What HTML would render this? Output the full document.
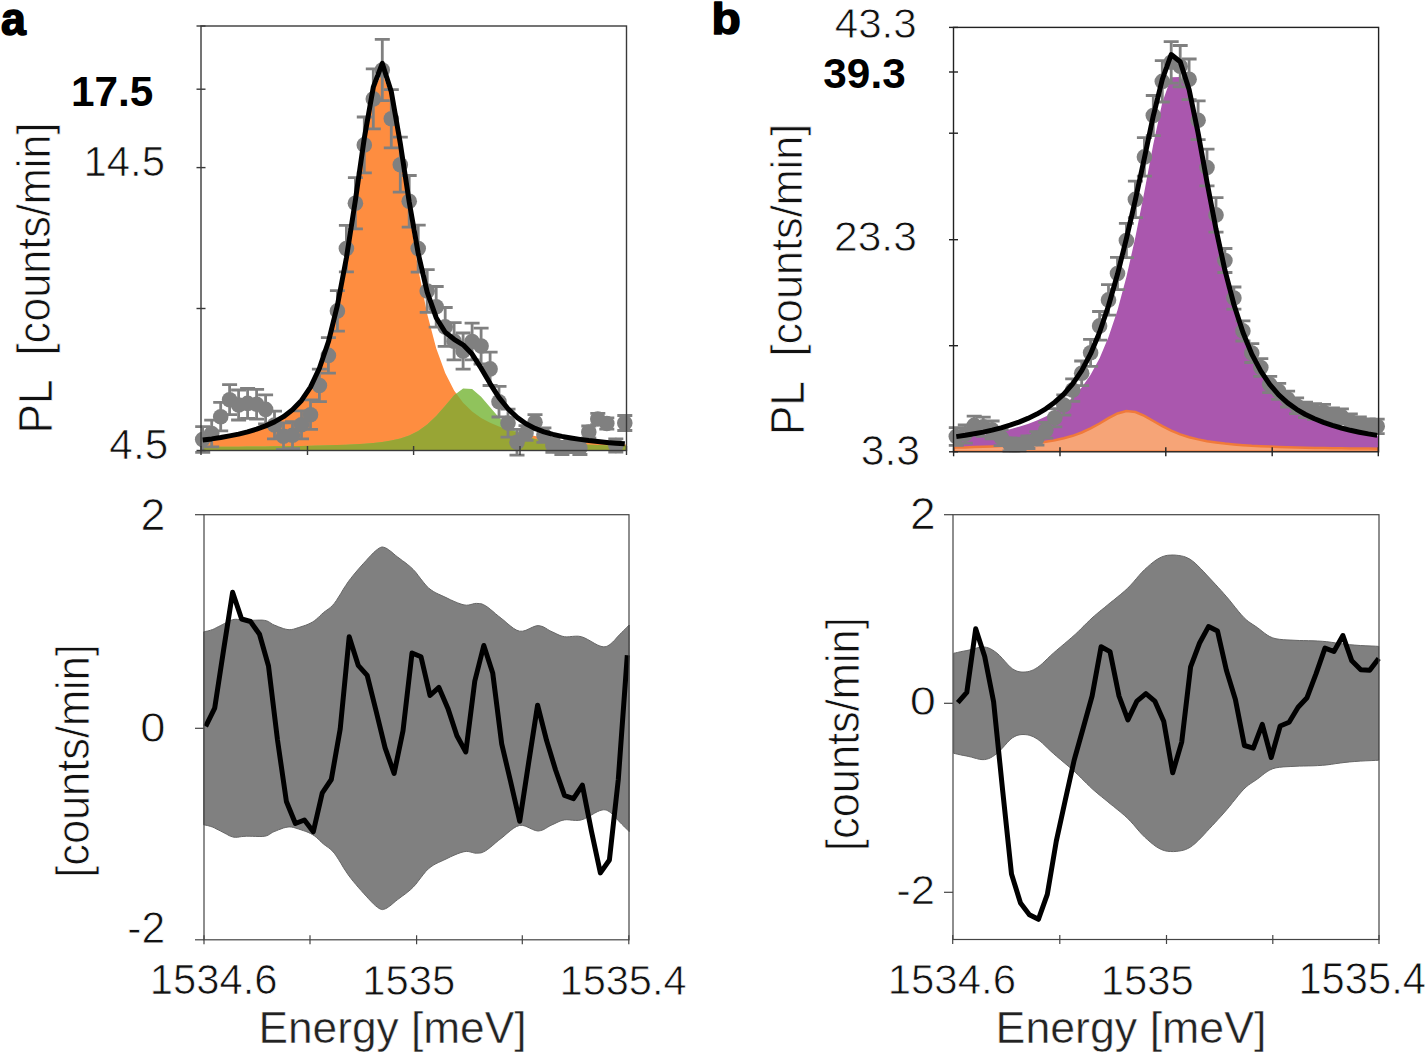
<!DOCTYPE html>
<html><head><meta charset="utf-8"><style>html,body{margin:0;padding:0;background:#fff;}body{width:1425px;height:1054px;overflow:hidden;}svg{display:block;}</style></head>
<body><svg width="1425" height="1054" viewBox="0 0 1425 1054" font-family="Liberation Sans, sans-serif" font-size="100"><defs><clipPath id="ca"><rect x="201.0" y="26.0" width="425.5" height="424.5"/></clipPath><clipPath id="cb"><rect x="953.5" y="27.4" width="425.0999999999999" height="424.40000000000003"/></clipPath><clipPath id="corange"><polygon points="201,450.5 201,439.9 202.7,439.7 211.7,438.6 220.7,437.3 229.6,435.7 238.6,433.9 247.6,431.8 256.6,429.2 265.6,426 274.5,422.1 283.5,417 292.5,410.2 301.5,401 310.5,387.9 319.4,369.3 328.4,343 337.4,306.9 346.4,259.8 355.4,202.4 364.3,141 373.3,90.8 382.3,73.1 391.3,97.7 400.3,151.4 409.2,213 418.2,268.8 427.2,314 436.2,348.2 445.2,373 454.1,390.5 463.1,402.8 472.1,411.6 481.1,418 490.1,422.8 499,426.6 508,429.7 517,432.2 526,434.3 535,436 543.9,437.5 552.9,438.8 561.9,439.9 570.9,440.8 579.9,441.7 588.8,442.4 597.8,443 606.8,443.6 615.8,444.1 624.8,444.6 626.5,444.6 626.5,450.5"/></clipPath></defs><g clip-path="url(#ca)"><polygon points="201,450.5 201,439.9 202.7,439.7 211.7,438.6 220.7,437.3 229.6,435.7 238.6,433.9 247.6,431.8 256.6,429.2 265.6,426 274.5,422.1 283.5,417 292.5,410.2 301.5,401 310.5,387.9 319.4,369.3 328.4,343 337.4,306.9 346.4,259.8 355.4,202.4 364.3,141 373.3,90.8 382.3,73.1 391.3,97.7 400.3,151.4 409.2,213 418.2,268.8 427.2,314 436.2,348.2 445.2,373 454.1,390.5 463.1,402.8 472.1,411.6 481.1,418 490.1,422.8 499,426.6 508,429.7 517,432.2 526,434.3 535,436 543.9,437.5 552.9,438.8 561.9,439.9 570.9,440.8 579.9,441.7 588.8,442.4 597.8,443 606.8,443.6 615.8,444.1 624.8,444.6 626.5,444.6 626.5,450.5" fill="#fe8d40"/><polygon points="201,450.5 201,446.9 202.7,446.9 211.7,446.8 220.7,446.8 229.6,446.7 238.6,446.7 247.6,446.6 256.6,446.5 265.6,446.4 274.5,446.3 283.5,446.2 292.5,446.1 301.5,445.9 310.5,445.8 319.4,445.6 328.4,445.3 337.4,445 346.4,444.7 355.4,444.2 364.3,443.7 373.3,442.9 382.3,442 391.3,440.6 400.3,438.5 409.2,435.5 418.2,431 427.2,424.6 436.2,416.1 445.2,405.7 454.1,395.3 463.1,388.5 472.1,389.1 481.1,396.7 490.1,407.3 499,417.4 508,425.7 517,431.8 526,436 535,438.9 543.9,440.8 552.9,442.1 561.9,443.1 570.9,443.7 579.9,444.3 588.8,444.7 597.8,445.1 606.8,445.4 615.8,445.6 624.8,445.8 626.5,445.8 626.5,450.5" fill="#90c35c"/><polygon points="201,450.5 201,446.9 202.7,446.9 211.7,446.8 220.7,446.8 229.6,446.7 238.6,446.7 247.6,446.6 256.6,446.5 265.6,446.4 274.5,446.3 283.5,446.2 292.5,446.1 301.5,445.9 310.5,445.8 319.4,445.6 328.4,445.3 337.4,445 346.4,444.7 355.4,444.2 364.3,443.7 373.3,442.9 382.3,442 391.3,440.6 400.3,438.5 409.2,435.5 418.2,431 427.2,424.6 436.2,416.1 445.2,405.7 454.1,395.3 463.1,388.5 472.1,389.1 481.1,396.7 490.1,407.3 499,417.4 508,425.7 517,431.8 526,436 535,438.9 543.9,440.8 552.9,442.1 561.9,443.1 570.9,443.7 579.9,444.3 588.8,444.7 597.8,445.1 606.8,445.4 615.8,445.6 624.8,445.8 626.5,445.8 626.5,450.5" fill="#98a535" clip-path="url(#corange)"/></g><g stroke="#808080" stroke-width="2.8" fill="none"><path d="M202.7,426.7V452.4M195.2,426.7H210.2M195.2,452.4H210.2"/><path d="M211.7,420.1V446.9M204.2,420.1H219.2M204.2,446.9H219.2"/><path d="M220.7,402.4V430.9M213.2,402.4H228.2M213.2,430.9H228.2"/><path d="M229.6,384.7V414.7M222.1,384.7H237.1M222.1,414.7H237.1"/><path d="M238.6,390V420M231.1,390H246.1M231.1,420H246.1"/><path d="M247.6,388.5V418.3M240.1,388.5H255.1M240.1,418.3H255.1"/><path d="M256.6,389.3V419.1M249.1,389.3H264.1M249.1,419.1H264.1"/><path d="M265.6,394.8V423.9M258.1,394.8H273.1M258.1,423.9H273.1"/><path d="M274.5,411.2V438.8M267,411.2H282M267,438.8H282"/><path d="M283.5,422.9V449.4M276,422.9H291M276,449.4H291"/><path d="M292.5,421.7V448.6M285,421.7H300M285,448.6H300"/><path d="M301.5,410.8V438.8M294,410.8H309M294,438.8H309"/><path d="M310.5,399.9V429.4M303,399.9H318M303,429.4H318"/><path d="M319.4,369.2V401.7M311.9,369.2H326.9M311.9,401.7H326.9"/><path d="M328.4,337.6V373.2M320.9,337.6H335.9M320.9,373.2H335.9"/><path d="M337.4,290.7V331.1M329.9,290.7H344.9M329.9,331.1H344.9"/><path d="M346.4,225.4V271.8M338.9,225.4H353.9M338.9,271.8H353.9"/><path d="M355.4,177.7V228.9M347.9,177.7H362.9M347.9,228.9H362.9"/><path d="M364.3,117V172.8M356.8,117H371.8M356.8,172.8H371.8"/><path d="M373.3,68.9V128.9M365.8,68.9H380.8M365.8,128.9H380.8"/><path d="M382.3,39.3V100.7M374.8,39.3H389.8M374.8,100.7H389.8"/><path d="M391.3,89.7V147.9M383.8,89.7H398.8M383.8,147.9H398.8"/><path d="M400.3,137.2V192.2M392.8,137.2H407.8M392.8,192.2H407.8"/><path d="M409.2,175.5V227.1M401.7,175.5H416.7M401.7,227.1H416.7"/><path d="M418.2,225.1V272.1M410.7,225.1H425.7M410.7,272.1H425.7"/><path d="M427.2,269.6V312.4M419.7,269.6H434.7M419.7,312.4H434.7"/><path d="M436.2,286.5V327.1M428.7,286.5H443.7M428.7,327.1H443.7"/><path d="M445.2,307.5V346.3M437.7,307.5H452.7M437.7,346.3H452.7"/><path d="M454.1,322.7V359.9M446.6,322.7H461.6M446.6,359.9H461.6"/><path d="M463.1,333V369.1M455.6,333H470.6M455.6,369.1H470.6"/><path d="M472.1,323.2V359.8M464.6,323.2H479.6M464.6,359.8H479.6"/><path d="M481.1,328.2V364M473.6,328.2H488.6M473.6,364H488.6"/><path d="M490.1,352.2V385.5M482.6,352.2H497.6M482.6,385.5H497.6"/><path d="M499,386.4V417M491.5,386.4H506.5M491.5,417H506.5"/><path d="M508,409.1V437.2M500.5,409.1H515.5M500.5,437.2H515.5"/><path d="M517,429.3V455.1M509.5,429.3H524.5M509.5,455.1H524.5"/><path d="M526,425.7V440.4M518.5,425.7H533.5M518.5,440.4H533.5"/><path d="M535,414.6V429.9M527.5,414.6H542.5M527.5,429.9H542.5"/><path d="M543.9,427.8V442.3M536.4,427.8H551.4M536.4,442.3H551.4"/><path d="M552.9,438.5V452.3M545.4,438.5H560.4M545.4,452.3H560.4"/><path d="M561.9,441.5V454.5M554.4,441.5H569.4M554.4,454.5H569.4"/><path d="M570.9,439.5V452.5M563.4,439.5H578.4M563.4,452.5H578.4"/><path d="M579.9,441.5V454.5M572.4,441.5H587.4M572.4,454.5H587.4"/><path d="M588.8,426V438M581.3,426H596.3M581.3,438H596.3"/><path d="M597.8,413.4V424.6M590.3,413.4H605.3M590.3,424.6H605.3"/><path d="M606.8,417.8V429.2M599.3,417.8H614.3M599.3,429.2H614.3"/><path d="M615.8,438.9V452.1M608.3,438.9H623.3M608.3,452.1H623.3"/><path d="M624.8,415.5V430.5M617.3,415.5H632.3M617.3,430.5H632.3"/></g><g fill="#808080"><circle cx="202.7" cy="439.5" r="7.8"/><circle cx="211.7" cy="433.5" r="7.8"/><circle cx="220.7" cy="416.7" r="7.8"/><circle cx="229.6" cy="399.7" r="7.8"/><circle cx="238.6" cy="405" r="7.8"/><circle cx="247.6" cy="403.4" r="7.8"/><circle cx="256.6" cy="404.2" r="7.8"/><circle cx="265.6" cy="409.4" r="7.8"/><circle cx="274.5" cy="425" r="7.8"/><circle cx="283.5" cy="436.2" r="7.8"/><circle cx="292.5" cy="435.2" r="7.8"/><circle cx="301.5" cy="424.8" r="7.8"/><circle cx="310.5" cy="414.7" r="7.8"/><circle cx="319.4" cy="385.5" r="7.8"/><circle cx="328.4" cy="355.4" r="7.8"/><circle cx="337.4" cy="310.9" r="7.8"/><circle cx="346.4" cy="248.6" r="7.8"/><circle cx="355.4" cy="203.3" r="7.8"/><circle cx="364.3" cy="144.9" r="7.8"/><circle cx="373.3" cy="98.9" r="7.8"/><circle cx="382.3" cy="70" r="7.8"/><circle cx="391.3" cy="118.8" r="7.8"/><circle cx="400.3" cy="164.7" r="7.8"/><circle cx="409.2" cy="201.3" r="7.8"/><circle cx="418.2" cy="248.6" r="7.8"/><circle cx="427.2" cy="291" r="7.8"/><circle cx="436.2" cy="306.8" r="7.8"/><circle cx="445.2" cy="326.9" r="7.8"/><circle cx="454.1" cy="341.3" r="7.8"/><circle cx="463.1" cy="351.1" r="7.8"/><circle cx="472.1" cy="341.5" r="7.8"/><circle cx="481.1" cy="346.1" r="7.8"/><circle cx="490.1" cy="368.9" r="7.8"/><circle cx="499" cy="401.7" r="7.8"/><circle cx="508" cy="423.1" r="7.8"/><circle cx="517" cy="442.2" r="7.8"/><circle cx="526" cy="433" r="7.8"/><circle cx="535" cy="422.2" r="7.8"/><circle cx="543.9" cy="435.1" r="7.8"/><circle cx="552.9" cy="445.4" r="7.8"/><circle cx="561.9" cy="448" r="7.8"/><circle cx="570.9" cy="446" r="7.8"/><circle cx="579.9" cy="448" r="7.8"/><circle cx="588.8" cy="432" r="7.8"/><circle cx="597.8" cy="419" r="7.8"/><circle cx="606.8" cy="423.5" r="7.8"/><circle cx="615.8" cy="445.5" r="7.8"/><circle cx="624.8" cy="423" r="7.8"/></g><polyline points="202.7,440 211.7,438.9 220.7,437.5 229.6,435.9 238.6,434.1 247.6,431.9 256.6,429.2 265.6,425.9 274.5,421.9 283.5,416.7 292.5,409.8 301.5,400.4 310.5,387.1 319.4,368.3 328.4,341.8 337.4,305.4 346.4,257.9 355.4,200.1 364.3,138.1 373.3,87.2 382.3,63.4 391.3,91.8 400.3,143.4 409.2,201.9 418.2,253.3 427.2,292.1 436.2,317.7 445.2,332.2 454.1,339.3 463.1,344.8 472.1,354.1 481.1,368.2 490.1,383.6 499,397.6 508,408.8 517,417.4 526,423.8 535,428.4 543.9,431.8 552.9,434.4 561.9,436.4 570.9,438 579.9,439.4 588.8,440.6 597.8,441.6 606.8,442.4 615.8,443.2 624.8,443.8" fill="none" stroke="#000" stroke-width="5" stroke-linejoin="round"/><g clip-path="url(#cb)"><polygon points="953.5,451.8 953.5,438.8 956.3,438.5 965.3,437.4 974.2,436.2 983.2,434.8 992.1,433.2 1001.1,431.3 1010,429.2 1019,426.8 1027.9,423.9 1036.9,420.5 1045.8,416.4 1054.8,411.4 1063.8,405.3 1072.7,397.5 1081.7,387.6 1090.6,374.8 1099.6,358.3 1108.5,337.1 1117.5,310.3 1126.4,277 1135.4,237.1 1144.4,191.6 1153.3,144.2 1162.3,102.6 1171.2,77.3 1180.2,76.9 1189.1,91.4 1198.1,135 1207,184.1 1216,231.1 1224.9,272.2 1233.9,306.5 1242.9,334.2 1251.8,356.1 1260.8,373.1 1269.7,386.4 1278.7,396.8 1287.6,404.9 1296.6,411.3 1305.5,416.3 1314.5,420.4 1323.5,423.8 1332.4,426.7 1341.4,429.2 1350.3,431.3 1359.3,433.1 1368.2,434.7 1377.2,436.1 1378.6,436.4 1378.6,451.8" fill="#aa57ae"/><polygon points="953.5,451.8 953.5,447.7 956.3,447.6 965.3,447.4 974.2,447.1 983.2,446.8 992.1,446.4 1001.1,446 1010,445.5 1019,444.8 1027.9,444 1036.9,443.1 1045.8,441.8 1054.8,440.3 1063.8,438.3 1072.7,435.8 1081.7,432.5 1090.6,428.4 1099.6,423.5 1108.5,418.2 1117.5,413.5 1126.4,411.1 1135.4,412 1144.4,415.8 1153.3,421 1162.3,426.2 1171.2,430.7 1180.2,434.4 1189.1,437.2 1198.1,439.4 1207,441.2 1216,442.5 1224.9,443.6 1233.9,444.5 1242.9,445.2 1251.8,445.8 1260.8,446.2 1269.7,446.6 1278.7,447 1287.6,447.3 1296.6,447.5 1305.5,447.7 1314.5,447.9 1323.5,448.1 1332.4,448.2 1341.4,448.3 1350.3,448.5 1359.3,448.6 1368.2,448.6 1377.2,448.7 1378.6,448.7 1378.6,451.8" fill="#f6a477" stroke="#f07a3a" stroke-width="2.5"/></g><g stroke="#808080" stroke-width="2.8" fill="none"><path d="M956.3,427.7V445.4M948.8,427.7H963.8M948.8,445.4H963.8"/><path d="M965.3,425V443.2M957.8,425H972.8M957.8,443.2H972.8"/><path d="M974.2,416.1V434.8M966.7,416.1H981.7M966.7,434.8H981.7"/><path d="M983.2,417.2V436.4M975.7,417.2H990.7M975.7,436.4H990.7"/><path d="M992.1,421V438.9M984.6,421H999.6M984.6,438.9H999.6"/><path d="M1001.1,429.6V445.6M993.6,429.6H1008.6M993.6,445.6H1008.6"/><path d="M1010,437.8V451M1002.5,437.8H1017.5M1002.5,451H1017.5"/><path d="M1019,438.4V450.8M1011.5,438.4H1026.5M1011.5,450.8H1026.5"/><path d="M1027.9,436V448.5M1020.4,436H1035.4M1020.4,448.5H1035.4"/><path d="M1036.9,431.6V445.2M1029.4,431.6H1044.4M1029.4,445.2H1044.4"/><path d="M1045.8,422.3V438.2M1038.3,422.3H1053.3M1038.3,438.2H1053.3"/><path d="M1054.8,408.6V426.8M1047.3,408.6H1062.3M1047.3,426.8H1062.3"/><path d="M1063.8,394.8V415.1M1056.3,394.8H1071.3M1056.3,415.1H1071.3"/><path d="M1072.7,378.9V401.3M1065.2,378.9H1080.2M1065.2,401.3H1080.2"/><path d="M1081.7,361V385.6M1074.2,361H1089.2M1074.2,385.6H1089.2"/><path d="M1090.6,339.4V366.3M1083.1,339.4H1098.1M1083.1,366.3H1098.1"/><path d="M1099.6,311.5V340.2M1092.1,311.5H1107.1M1092.1,340.2H1107.1"/><path d="M1108.5,284.7V315.2M1101,284.7H1116M1101,315.2H1116"/><path d="M1117.5,257.3V289.6M1110,257.3H1125M1110,289.6H1125"/><path d="M1126.4,223.4V257.6M1118.9,223.4H1133.9M1118.9,257.6H1133.9"/><path d="M1135.4,181.2V217.6M1127.9,181.2H1142.9M1127.9,217.6H1142.9"/><path d="M1144.4,137.6V176.2M1136.9,137.6H1151.9M1136.9,176.2H1151.9"/><path d="M1153.3,95.5V135.6M1145.8,95.5H1160.8M1145.8,135.6H1160.8"/><path d="M1162.3,60.7V102M1154.8,60.7H1169.8M1154.8,102H1169.8"/><path d="M1171.2,41.6V83.1M1163.7,41.6H1178.7M1163.7,83.1H1178.7"/><path d="M1180.2,45.5V86.8M1172.7,45.5H1187.7M1172.7,86.8H1187.7"/><path d="M1189.1,59V99.6M1181.6,59H1196.6M1181.6,99.6H1196.6"/><path d="M1198.1,100.9V139.6M1190.6,100.9H1205.6M1190.6,139.6H1205.6"/><path d="M1207,149.1V185.8M1199.5,149.1H1214.5M1199.5,185.8H1214.5"/><path d="M1216,197.7V232.1M1208.5,197.7H1223.5M1208.5,232.1H1223.5"/><path d="M1224.9,248.5V272.5M1217.4,248.5H1232.4M1217.4,272.5H1232.4"/><path d="M1233.9,287V309.1M1226.4,287H1241.4M1226.4,309.1H1241.4"/><path d="M1242.9,320.9V341M1235.4,320.9H1250.4M1235.4,341H1250.4"/><path d="M1251.8,343.7V362.5M1244.3,343.7H1259.3M1244.3,362.5H1259.3"/><path d="M1260.8,358.7V376.3M1253.3,358.7H1268.3M1253.3,376.3H1268.3"/><path d="M1269.7,376.3V392.7M1262.2,376.3H1277.2M1262.2,392.7H1277.2"/><path d="M1278.7,383.3V399.4M1271.2,383.3H1286.2M1271.2,399.4H1286.2"/><path d="M1287.6,391.1V407M1280.1,391.1H1295.1M1280.1,407H1295.1"/><path d="M1296.6,397.9V413.6M1289.1,397.9H1304.1M1289.1,413.6H1304.1"/><path d="M1305.5,402.1V417.7M1298,402.1H1313M1298,417.7H1313"/><path d="M1314.5,403.7V419.3M1307,403.7H1322M1307,419.3H1322"/><path d="M1323.5,404.4V419.9M1316,404.4H1331M1316,419.9H1331"/><path d="M1332.4,408V423.2M1324.9,408H1339.9M1324.9,423.2H1339.9"/><path d="M1341.4,408.9V423.9M1333.9,408.9H1348.9M1333.9,423.9H1348.9"/><path d="M1350.3,414V428.9M1342.8,414H1357.8M1342.8,428.9H1357.8"/><path d="M1359.3,417V431.8M1351.8,417H1366.8M1351.8,431.8H1366.8"/><path d="M1368.2,418.8V433.5M1360.7,418.8H1375.7M1360.7,433.5H1375.7"/><path d="M1377.2,419.1V433.6M1369.7,419.1H1384.7M1369.7,433.6H1384.7"/></g><g fill="#808080"><circle cx="956.3" cy="436.6" r="7.8"/><circle cx="965.3" cy="434.1" r="7.8"/><circle cx="974.2" cy="425.4" r="7.8"/><circle cx="983.2" cy="426.8" r="7.8"/><circle cx="992.1" cy="429.9" r="7.8"/><circle cx="1001.1" cy="437.6" r="7.8"/><circle cx="1010" cy="444.4" r="7.8"/><circle cx="1019" cy="444.6" r="7.8"/><circle cx="1027.9" cy="442.2" r="7.8"/><circle cx="1036.9" cy="438.4" r="7.8"/><circle cx="1045.8" cy="430.2" r="7.8"/><circle cx="1054.8" cy="417.7" r="7.8"/><circle cx="1063.8" cy="405" r="7.8"/><circle cx="1072.7" cy="390.1" r="7.8"/><circle cx="1081.7" cy="373.3" r="7.8"/><circle cx="1090.6" cy="352.8" r="7.8"/><circle cx="1099.6" cy="325.9" r="7.8"/><circle cx="1108.5" cy="299.9" r="7.8"/><circle cx="1117.5" cy="273.5" r="7.8"/><circle cx="1126.4" cy="240.5" r="7.8"/><circle cx="1135.4" cy="199.4" r="7.8"/><circle cx="1144.4" cy="156.9" r="7.8"/><circle cx="1153.3" cy="115.5" r="7.8"/><circle cx="1162.3" cy="81.4" r="7.8"/><circle cx="1171.2" cy="62.3" r="7.8"/><circle cx="1180.2" cy="66.2" r="7.8"/><circle cx="1189.1" cy="79.3" r="7.8"/><circle cx="1198.1" cy="120.2" r="7.8"/><circle cx="1207" cy="167.5" r="7.8"/><circle cx="1216" cy="214.9" r="7.8"/><circle cx="1224.9" cy="260.5" r="7.8"/><circle cx="1233.9" cy="298.1" r="7.8"/><circle cx="1242.9" cy="330.9" r="7.8"/><circle cx="1251.8" cy="353.1" r="7.8"/><circle cx="1260.8" cy="367.5" r="7.8"/><circle cx="1269.7" cy="384.5" r="7.8"/><circle cx="1278.7" cy="391.3" r="7.8"/><circle cx="1287.6" cy="399" r="7.8"/><circle cx="1296.6" cy="405.8" r="7.8"/><circle cx="1305.5" cy="409.9" r="7.8"/><circle cx="1314.5" cy="411.5" r="7.8"/><circle cx="1323.5" cy="412.2" r="7.8"/><circle cx="1332.4" cy="415.6" r="7.8"/><circle cx="1341.4" cy="416.4" r="7.8"/><circle cx="1350.3" cy="421.5" r="7.8"/><circle cx="1359.3" cy="424.4" r="7.8"/><circle cx="1368.2" cy="426.2" r="7.8"/><circle cx="1377.2" cy="426.3" r="7.8"/></g><polyline points="956.3,436.6 965.3,435.3 974.2,433.8 983.2,432.1 992.1,430.1 1001.1,427.8 1010,425.2 1019,422.1 1027.9,418.4 1036.9,414.1 1045.8,408.8 1054.8,402.2 1063.8,394.1 1072.7,383.8 1081.7,370.6 1090.6,353.7 1099.6,332.2 1108.5,305.8 1117.5,274.3 1126.4,238.6 1135.4,199.6 1144.4,158 1153.3,115.8 1162.3,79.3 1171.2,54.5 1180.2,61.8 1189.1,89.4 1198.1,133 1207,182.1 1216,229.1 1224.9,270.2 1233.9,304.5 1242.9,332.2 1251.8,354.1 1260.8,371.1 1269.7,384.4 1278.7,394.8 1287.6,402.9 1296.6,409.3 1305.5,414.5 1314.5,418.8 1323.5,422.4 1332.4,425.4 1341.4,428 1350.3,430.3 1359.3,432.2 1368.2,433.9 1377.2,435.4" fill="none" stroke="#000" stroke-width="5" stroke-linejoin="round"/><polygon points="203.7,631.8 204.6,631.6 205.8,631.4 207.3,631.1 208.9,630.7 210.6,630.2 212.4,629.6 214.3,628.8 216.3,627.7 218.5,626.6 220.7,625.5 222.8,624.4 224.7,623.4 226.4,622.5 227.9,621.7 229.3,620.9 230.8,620.3 232.3,619.8 234,619.4 235.8,619.3 237.6,619.4 239.6,619.6 241.6,620 243.9,620.2 246.3,620.4 249.1,620.4 252.3,620.3 255.7,620.2 259.1,620.1 262.2,620.1 264.8,620.4 266.8,620.9 268.4,621.6 269.7,622.4 271,623.3 272.4,624.2 274.1,625 276.2,625.8 278.5,626.8 281,627.7 283.4,628.6 285.8,629.2 288,629.6 289.9,629.7 291.7,629.5 293.4,629.2 295.1,628.7 296.9,628.1 298.8,627.5 301,626.8 303.3,626 305.8,625.2 308.2,624.2 310.5,623.1 312.7,621.9 314.7,620.6 316.5,619.1 318.3,617.5 320,615.8 321.7,614.2 323.5,612.6 325.3,611.2 327,610 328.7,608.8 330.5,607.4 332.3,605.6 334.3,603.4 336.4,600.5 338.6,597 341,593.2 343.3,589.2 345.8,585.4 348.2,581.8 350.7,578.5 353.3,575.2 356,572 358.6,568.9 361.2,566 363.7,563.2 366.2,560.5 368.6,557.8 371.1,555.2 373.4,552.8 375.6,550.8 377.5,549.3 379.1,548.2 380.4,547.5 381.5,547.1 382.6,547 383.8,547.3 385.3,547.8 387.1,548.7 388.9,550 391,551.5 393.1,553.3 395.3,555.2 397.6,557 400,558.8 402.5,560.7 405.2,562.6 407.8,564.7 410.5,566.9 413.1,569.4 415.7,572.2 418.2,575.5 420.8,578.9 423.4,582.2 425.9,585.3 428.5,587.9 431,589.9 433.5,591.5 435.9,592.9 438.4,594.1 441.1,595.3 443.9,596.6 447.1,598.1 450.5,599.8 454.1,601.4 457.7,602.9 461,604.1 464,604.9 466.5,605.2 468.8,605 470.9,604.5 472.8,604 474.6,603.5 476.4,603.4 478,603.5 479.5,603.5 480.8,603.7 482.2,604.1 483.7,604.8 485.6,605.8 487.8,607.3 490.2,609.2 492.8,611.3 495.5,613.7 498.3,616 501.1,618.2 504,620.5 507,623.2 510.2,625.8 513.3,628.2 516.5,630.1 519.6,631.2 522.7,631.2 525.9,630.3 529.1,628.8 532.3,627.3 535.3,626.1 538.1,625.6 540.7,626 543.1,626.8 545.4,628 547.6,629.4 549.8,630.7 552,631.8 554.1,632.7 556.1,633.7 558,634.6 560,635.5 562.1,636.2 564.4,636.7 566.9,636.9 569.6,636.7 572.5,636.4 575.4,636.2 578.3,636.2 581.3,636.7 584.4,637.8 587.7,639.5 591.1,641.4 594.3,643.3 597.3,644.9 599.9,646 602,646.6 603.6,646.8 605,646.8 606.3,646.5 607.6,645.9 609.1,645.1 610.8,643.8 612.7,642.1 614.6,640.2 616.4,638.1 618.3,636 620,634.2 621.7,632.5 623.5,630.7 625.3,628.9 626.9,627.3 628.2,626 629.2,625 629.2,831.6 628.2,830.6 626.9,829.3 625.3,827.7 623.5,825.9 621.7,824.1 620,822.4 618.3,820.6 616.4,818.5 614.6,816.4 612.7,814.5 610.8,812.8 609.1,811.5 607.6,810.7 606.3,810.1 605,809.8 603.6,809.8 602,810 599.9,810.6 597.3,811.7 594.3,813.3 591.1,815.2 587.7,817.1 584.4,818.8 581.3,819.9 578.3,820.4 575.4,820.4 572.5,820.2 569.6,819.9 566.9,819.7 564.4,819.9 562.1,820.4 560,821.1 558,822 556.1,822.9 554.1,823.9 552,824.8 549.8,825.9 547.6,827.2 545.4,828.6 543.1,829.8 540.7,830.6 538.1,831 535.3,830.5 532.3,829.3 529.1,827.8 525.9,826.3 522.7,825.4 519.6,825.4 516.5,826.5 513.3,828.4 510.2,830.8 507,833.4 504,836.1 501.1,838.4 498.3,840.6 495.5,842.9 492.8,845.3 490.2,847.4 487.8,849.3 485.6,850.8 483.7,851.8 482.2,852.5 480.8,852.9 479.5,853.1 478,853.1 476.4,853.2 474.6,853.1 472.8,852.6 470.9,852.1 468.8,851.6 466.5,851.4 464,851.7 461,852.5 457.7,853.7 454.1,855.2 450.5,856.8 447.1,858.5 443.9,860 441.1,861.3 438.4,862.5 435.9,863.7 433.5,865.1 431,866.7 428.5,868.7 425.9,871.3 423.4,874.4 420.8,877.7 418.2,881.1 415.7,884.4 413.1,887.2 410.5,889.7 407.8,891.9 405.2,894 402.5,895.9 400,897.8 397.6,899.6 395.3,901.4 393.1,903.3 391,905.1 388.9,906.6 387.1,907.9 385.3,908.8 383.8,909.3 382.6,909.6 381.5,909.5 380.4,909.1 379.1,908.4 377.5,907.3 375.6,905.8 373.4,903.8 371.1,901.4 368.6,898.8 366.2,896.1 363.7,893.4 361.2,890.6 358.6,887.7 356,884.6 353.3,881.4 350.7,878.1 348.2,874.8 345.8,871.2 343.3,867.4 341,863.4 338.6,859.6 336.4,856.1 334.3,853.2 332.3,851 330.5,849.2 328.7,847.8 327,846.6 325.3,845.4 323.5,844 321.7,842.4 320,840.8 318.3,839.1 316.5,837.5 314.7,836 312.7,834.7 310.5,833.5 308.2,832.4 305.8,831.4 303.3,830.6 301,829.8 298.8,829.1 296.9,828.5 295.1,827.9 293.4,827.4 291.7,827.1 289.9,826.9 288,827 285.8,827.4 283.4,828 281,828.9 278.5,829.8 276.2,830.8 274.1,831.6 272.4,832.4 271,833.3 269.7,834.2 268.4,835 266.8,835.7 264.8,836.2 262.2,836.5 259.1,836.5 255.7,836.4 252.3,836.3 249.1,836.2 246.3,836.2 243.9,836.4 241.6,836.6 239.6,836.9 237.6,837.2 235.8,837.3 234,837.2 232.3,836.8 230.8,836.3 229.3,835.7 227.9,834.9 226.4,834.1 224.7,833.2 222.8,832.2 220.7,831.1 218.5,830 216.3,828.9 214.3,827.8 212.4,827 210.6,826.4 208.9,825.9 207.3,825.5 205.8,825.2 204.6,825 203.7,824.8" fill="#808080" stroke="#666" stroke-width="1"/><polyline points="205.7,726.3 214.7,708.1 223.6,649.9 232.6,592.3 241.6,619 250.5,621.5 259.5,634.3 268.5,666 277.5,740 286.4,801.5 295.4,823.5 304.4,820 313.3,831.8 322.3,792.8 331.3,779.5 340.2,729 349.2,636.8 358.2,665.3 367.2,675.3 376.1,711 385.1,747.8 394.1,773.5 403,730.8 412,653 421,656.8 430,695.5 438.9,687.4 447.9,708.4 456.9,735.8 465.8,752 474.8,681 483.8,645.5 492.7,672.9 501.7,743.9 510.7,782 519.7,821.3 528.6,763 537.6,705.2 546.6,740.6 555.5,769.7 564.5,795.5 573.5,798.7 582.4,785.2 591.4,831 600.4,872.9 609.4,860 618.3,779.4 627.3,655.2" fill="none" stroke="#000" stroke-width="5" stroke-linejoin="round"/><polygon points="953.8,653.2 955.4,652.9 957.7,652.4 960.3,651.8 963.2,651.2 966.1,650.7 968.8,650.1 971.4,649.5 974.1,648.7 976.7,648 979.4,647.3 982,647 984.4,647 986.6,647.4 988.7,648 990.7,648.9 992.7,650.1 994.8,651.5 997,653.2 999.5,655.4 1002.1,658.2 1004.8,661.2 1007.5,664.2 1010.1,666.9 1012.6,668.9 1014.9,670.2 1017,671.2 1019,671.7 1021,672 1023,672.1 1025.1,672 1027.2,671.8 1029.2,671.4 1031.2,670.7 1033.3,669.9 1035.4,668.7 1037.7,667.3 1040.1,665.5 1042.4,663.5 1044.9,661.1 1047.5,658.6 1050.3,655.9 1053.3,653.2 1056.6,650.3 1060.3,647.2 1064.2,643.9 1068,640.7 1071.8,637.4 1075.2,634.4 1078.3,631.5 1081.2,628.6 1084,625.8 1086.7,623.1 1089.4,620.5 1092,618 1094.6,615.7 1097,613.7 1099.3,611.7 1101.7,609.8 1104.3,607.7 1107.1,605.4 1110.2,602.8 1113.7,600.1 1117.2,597.2 1120.8,594.3 1124.3,591.3 1127.6,588.3 1130.6,585.2 1133.6,581.9 1136.4,578.6 1139.1,575.4 1141.9,572.3 1144.7,569.5 1147.6,566.9 1150.4,564.4 1153.3,562.1 1156.1,560 1159,558.3 1161.8,556.9 1164.7,555.9 1167.6,555.3 1170.5,555.1 1173.4,555 1176.2,555.2 1178.8,555.5 1181.2,555.9 1183.5,556.4 1185.6,557.1 1187.8,558.1 1190.1,559.3 1192.5,561 1195.2,563.2 1197.9,565.8 1200.8,568.7 1203.8,571.8 1206.7,575 1209.6,578.1 1212.4,581.1 1215.3,584.2 1218.1,587.3 1221,590.4 1223.8,593.6 1226.7,596.9 1229.6,600.3 1232.5,604 1235.5,607.7 1238.4,611.3 1241.2,614.6 1243.8,617.4 1246.2,619.7 1248.5,621.6 1250.7,623.1 1252.9,624.6 1255.1,626 1257.4,627.6 1259.8,629.4 1262.1,631.3 1264.6,633.2 1267.1,635 1269.8,636.6 1272.8,637.9 1276,638.8 1279.5,639.3 1283.2,639.7 1287,639.9 1290.9,640.1 1295,640.3 1299.3,640.5 1303.7,640.6 1308.3,640.7 1313,640.8 1317.7,641 1322.3,641.3 1326.8,641.7 1331.4,642.3 1335.9,643 1340.4,643.6 1345,644.2 1349.7,644.7 1354.8,645.1 1360.3,645.5 1365.9,645.8 1371.1,646 1375.5,646.2 1378.7,646.4 1378.7,760.2 1375.5,760.4 1371.1,760.6 1365.9,760.8 1360.3,761.1 1354.8,761.5 1349.7,761.9 1345,762.4 1340.4,763 1335.9,763.6 1331.4,764.3 1326.8,764.9 1322.3,765.3 1317.7,765.6 1313,765.8 1308.3,765.9 1303.7,766 1299.3,766.1 1295,766.3 1290.9,766.5 1287,766.7 1283.2,766.9 1279.5,767.3 1276,767.8 1272.8,768.7 1269.8,770 1267.1,771.6 1264.6,773.4 1262.1,775.3 1259.8,777.2 1257.4,779 1255.1,780.6 1252.9,782 1250.7,783.5 1248.5,785 1246.2,786.9 1243.8,789.2 1241.2,792 1238.4,795.3 1235.5,798.9 1232.5,802.6 1229.6,806.3 1226.7,809.7 1223.8,813 1221,816.2 1218.1,819.3 1215.3,822.4 1212.4,825.5 1209.6,828.5 1206.7,831.6 1203.8,834.8 1200.8,837.9 1197.9,840.8 1195.2,843.4 1192.5,845.6 1190.1,847.3 1187.8,848.5 1185.6,849.5 1183.5,850.2 1181.2,850.7 1178.8,851.1 1176.2,851.4 1173.4,851.6 1170.5,851.5 1167.6,851.3 1164.7,850.7 1161.8,849.7 1159,848.3 1156.1,846.6 1153.3,844.5 1150.4,842.2 1147.6,839.7 1144.7,837.1 1141.9,834.3 1139.1,831.2 1136.4,828 1133.6,824.7 1130.6,821.4 1127.6,818.3 1124.3,815.3 1120.8,812.3 1117.2,809.4 1113.7,806.5 1110.2,803.8 1107.1,801.2 1104.3,798.9 1101.7,796.8 1099.3,794.9 1097,792.9 1094.6,790.9 1092,788.6 1089.4,786.1 1086.7,783.5 1084,780.8 1081.2,778 1078.3,775.1 1075.2,772.2 1071.8,769.2 1068,765.9 1064.2,762.7 1060.3,759.4 1056.6,756.3 1053.3,753.4 1050.3,750.7 1047.5,748 1044.9,745.5 1042.4,743.1 1040.1,741.1 1037.7,739.3 1035.4,737.9 1033.3,736.7 1031.2,735.9 1029.2,735.2 1027.2,734.8 1025.1,734.6 1023,734.5 1021,734.6 1019,734.9 1017,735.4 1014.9,736.4 1012.6,737.7 1010.1,739.7 1007.5,742.4 1004.8,745.4 1002.1,748.4 999.5,751.2 997,753.4 994.8,755.1 992.7,756.5 990.7,757.7 988.7,758.6 986.6,759.2 984.4,759.6 982,759.6 979.4,759.3 976.7,758.6 974.1,757.9 971.4,757.1 968.8,756.5 966.1,755.9 963.2,755.4 960.3,754.8 957.7,754.2 955.4,753.7 953.8,753.4" fill="#808080" stroke="#666" stroke-width="1"/><polyline points="957.8,702.7 966.8,692.4 975.7,628.8 984.7,656.4 993.6,701.8 1002.6,790 1011.5,874 1020.5,903.1 1029.4,914.7 1038.4,919.3 1047.3,894.3 1056.3,841.1 1065.3,800 1074.2,760 1083.2,728 1092.1,696 1101.1,646.7 1110,651.6 1119,696 1127.9,719.9 1136.9,701.1 1145.9,693.6 1154.8,701.1 1163.8,721.6 1172.7,772.8 1181.7,742.1 1190.6,666.9 1199.6,643 1208.5,626.6 1217.5,631 1226.4,670.3 1235.4,699.4 1244.4,745.5 1253.3,748.2 1262.3,724.3 1271.2,757.5 1280.2,726 1289.1,722.3 1298.1,707.2 1307,697.7 1316,673.8 1325,648.1 1333.9,651.5 1342.9,635.5 1351.8,660.8 1360.8,669.7 1369.7,670.3 1378.7,658.4" fill="none" stroke="#000" stroke-width="5" stroke-linejoin="round"/><rect x="201" y="26" width="425.5" height="424.5" fill="none" stroke="#3a3a3a" stroke-width="1.4"/><path d="M196.5,26H205.5" stroke="#3a3a3a" stroke-width="1.4"/><path d="M196.5,89.2H205.5" stroke="#3a3a3a" stroke-width="1.4"/><path d="M196.5,167.6H205.5" stroke="#3a3a3a" stroke-width="1.4"/><path d="M196.5,308.5H205.5" stroke="#3a3a3a" stroke-width="1.4"/><path d="M196.5,450.5H205.5" stroke="#3a3a3a" stroke-width="1.4"/><path d="M201,446.0V455.0" stroke="#3a3a3a" stroke-width="1.4"/><path d="M307.5,446.0V455.0" stroke="#3a3a3a" stroke-width="1.4"/><path d="M413.6,446.0V455.0" stroke="#3a3a3a" stroke-width="1.4"/><path d="M520,446.0V455.0" stroke="#3a3a3a" stroke-width="1.4"/><path d="M626.5,446.0V455.0" stroke="#3a3a3a" stroke-width="1.4"/><rect x="204" y="514.7" width="425" height="425.0999999999999" fill="none" stroke="#444" stroke-width="1.2"/><path d="M195,514.7H204" stroke="#444" stroke-width="1.2"/><path d="M195,728.3H204" stroke="#444" stroke-width="1.2"/><path d="M195,939.8H204" stroke="#444" stroke-width="1.2"/><path d="M204,935.3V944.3" stroke="#444" stroke-width="1.2"/><path d="M310,935.3V944.3" stroke="#444" stroke-width="1.2"/><path d="M416.6,935.3V944.3" stroke="#444" stroke-width="1.2"/><path d="M522.3,935.3V944.3" stroke="#444" stroke-width="1.2"/><path d="M628.8,935.3V944.3" stroke="#444" stroke-width="1.2"/><rect x="953.5" y="27.4" width="425.0999999999999" height="424.40000000000003" fill="none" stroke="#222" stroke-width="1.4"/><path d="M949.0,27.4H958.0" stroke="#222" stroke-width="1.4"/><path d="M949.0,72H958.0" stroke="#222" stroke-width="1.4"/><path d="M949.0,133.2H958.0" stroke="#222" stroke-width="1.4"/><path d="M949.0,239.7H958.0" stroke="#222" stroke-width="1.4"/><path d="M949.0,345.7H958.0" stroke="#222" stroke-width="1.4"/><path d="M949.0,451.8H958.0" stroke="#222" stroke-width="1.4"/><path d="M953.6,447.3V456.3" stroke="#222" stroke-width="1.4"/><path d="M1060,447.3V456.3" stroke="#222" stroke-width="1.4"/><path d="M1165.8,447.3V456.3" stroke="#222" stroke-width="1.4"/><path d="M1272.2,447.3V456.3" stroke="#222" stroke-width="1.4"/><path d="M1378.3,447.3V456.3" stroke="#222" stroke-width="1.4"/><rect x="953" y="514.7" width="426" height="424.79999999999995" fill="none" stroke="#444" stroke-width="1.2"/><path d="M944,514.7H953" stroke="#444" stroke-width="1.2"/><path d="M944,703.3H953" stroke="#444" stroke-width="1.2"/><path d="M944,892.3H953" stroke="#444" stroke-width="1.2"/><path d="M952.7,935.0V944.0" stroke="#444" stroke-width="1.2"/><path d="M1059.8,935.0V944.0" stroke="#444" stroke-width="1.2"/><path d="M1166.5,935.0V944.0" stroke="#444" stroke-width="1.2"/><path d="M1272.8,935.0V944.0" stroke="#444" stroke-width="1.2"/><path d="M1379,935.0V944.0" stroke="#444" stroke-width="1.2"/><text transform="translate(1.10,34.99) scale(0.4462,0.4560)" font-weight="bold" fill="#000" stroke="#000" stroke-width="3.51" stroke-linejoin="round">a</text><text transform="translate(70.95,105.92) scale(0.4234,0.4341)" font-weight="bold" fill="#000" >17.5</text><text transform="translate(83.51,176.20) scale(0.4191,0.4306)" font-weight="normal" fill="#111" stroke="#fff" stroke-width="1.74" stroke-linejoin="round">14.5</text><text transform="translate(109.36,458.80) scale(0.4232,0.4306)" font-weight="normal" fill="#111" stroke="#fff" stroke-width="1.74" stroke-linejoin="round">4.5</text><text transform="translate(51.97,433.41) rotate(-90) scale(0.4397,0.4843)" font-weight="normal" fill="#111" stroke="#fff" stroke-width="1.55" stroke-linejoin="round">PL</text><text transform="translate(50.18,355.48) rotate(-90) scale(0.4322,0.4569)" font-weight="normal" fill="#111" stroke="#fff" stroke-width="1.64" stroke-linejoin="round">[counts/min]</text><text transform="translate(140.53,529.77) scale(0.4469,0.4459)" font-weight="normal" fill="#111" stroke="#fff" stroke-width="1.68" stroke-linejoin="round">2</text><text transform="translate(140.21,742.11) scale(0.4530,0.4264)" font-weight="normal" fill="#111" stroke="#fff" stroke-width="1.76" stroke-linejoin="round">0</text><text transform="translate(127.19,943.08) scale(0.4264,0.4416)" font-weight="normal" fill="#111" stroke="#fff" stroke-width="1.70" stroke-linejoin="round">-2</text><text transform="translate(89.30,877.78) rotate(-90) scale(0.4333,0.4559)" font-weight="normal" fill="#111" stroke="#fff" stroke-width="1.65" stroke-linejoin="round">[counts/min]</text><text transform="translate(149.81,994.31) scale(0.4177,0.4250)" font-weight="normal" fill="#111" stroke="#fff" stroke-width="1.76" stroke-linejoin="round">1534.6</text><text transform="translate(362.21,994.70) scale(0.4183,0.4320)" font-weight="normal" fill="#111" stroke="#fff" stroke-width="1.74" stroke-linejoin="round">1535</text><text transform="translate(559.53,994.70) scale(0.4158,0.4320)" font-weight="normal" fill="#111" stroke="#fff" stroke-width="1.74" stroke-linejoin="round">1535.4</text><text transform="translate(258.49,1042.93) scale(0.4425,0.4490)" font-weight="normal" fill="#222" stroke="#fff" stroke-width="1.11" stroke-linejoin="round">Energy [meV]</text><text transform="translate(711.51,34.31) scale(0.4790,0.4427)" font-weight="bold" fill="#000" stroke="#000" stroke-width="3.61" stroke-linejoin="round">b</text><text transform="translate(834.77,38.20) scale(0.4214,0.4292)" font-weight="normal" fill="#111" stroke="#fff" stroke-width="1.75" stroke-linejoin="round">43.3</text><text transform="translate(823.34,87.74) scale(0.4229,0.4243)" font-weight="bold" fill="#000" >39.3</text><text transform="translate(834.03,251.40) scale(0.4253,0.4320)" font-weight="normal" fill="#111" stroke="#fff" stroke-width="1.74" stroke-linejoin="round">23.3</text><text transform="translate(860.69,465.42) scale(0.4274,0.4181)" font-weight="normal" fill="#111" stroke="#fff" stroke-width="1.79" stroke-linejoin="round">3.3</text><text transform="translate(803.88,435.01) rotate(-90) scale(0.4397,0.4857)" font-weight="normal" fill="#111" stroke="#fff" stroke-width="1.54" stroke-linejoin="round">PL</text><text transform="translate(802.32,356.57) rotate(-90) scale(0.4318,0.4506)" font-weight="normal" fill="#111" stroke="#fff" stroke-width="1.66" stroke-linejoin="round">[counts/min]</text><text transform="translate(910.06,528.77) scale(0.4619,0.4430)" font-weight="normal" fill="#111" stroke="#fff" stroke-width="1.69" stroke-linejoin="round">2</text><text transform="translate(909.85,715.13) scale(0.4710,0.4125)" font-weight="normal" fill="#111" stroke="#fff" stroke-width="1.82" stroke-linejoin="round">0</text><text transform="translate(896.26,904.08) scale(0.4374,0.4004)" font-weight="normal" fill="#111" stroke="#fff" stroke-width="1.87" stroke-linejoin="round">-2</text><text transform="translate(859.23,850.99) rotate(-90) scale(0.4337,0.4548)" font-weight="normal" fill="#111" stroke="#fff" stroke-width="1.65" stroke-linejoin="round">[counts/min]</text><text transform="translate(887.70,994.32) scale(0.4194,0.4195)" font-weight="normal" fill="#111" stroke="#fff" stroke-width="1.79" stroke-linejoin="round">1534.6</text><text transform="translate(1100.71,994.70) scale(0.4183,0.4320)" font-weight="normal" fill="#111" stroke="#fff" stroke-width="1.74" stroke-linejoin="round">1535</text><text transform="translate(1298.42,994.49) scale(0.4168,0.4362)" font-weight="normal" fill="#111" stroke="#fff" stroke-width="1.72" stroke-linejoin="round">1535.4</text><text transform="translate(995.56,1042.93) scale(0.4472,0.4490)" font-weight="normal" fill="#222" stroke="#fff" stroke-width="1.11" stroke-linejoin="round">Energy [meV]</text></svg></body></html>
